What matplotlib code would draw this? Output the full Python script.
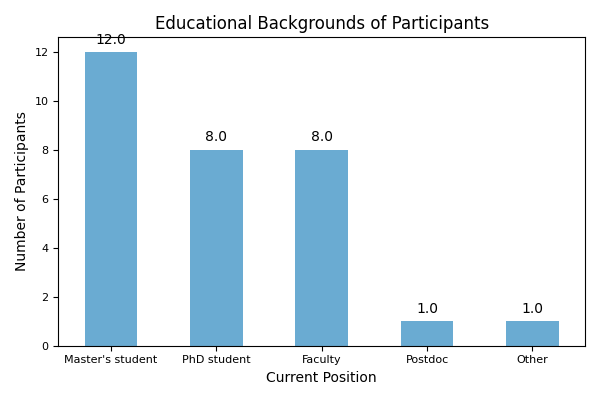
import matplotlib
matplotlib.use("Agg")
import matplotlib.pyplot as plt
import pandas as pd

positions = ["Master's student", "PhD student", "Faculty", "Postdoc", "Other"]
counts = [12, 8, 8, 1, 1]

series = pd.Series(counts, index=positions, dtype=float)

fig, ax = plt.subplots(figsize=(6, 4), dpi=100)
series.plot(kind="bar", ax=ax, color="#6aabd2", width=0.5)

for p in ax.patches:
    ax.annotate(f"{p.get_height():.1f}",
                (p.get_x() + p.get_width() / 2, p.get_height()),
                ha="center", va="center", xytext=(0, 9),
                textcoords="offset points", fontsize=10)

ax.set_title("Educational Backgrounds of Participants", fontsize=12)
ax.set_xlabel("Current Position", fontsize=10)
ax.set_ylabel("Number of Participants", fontsize=10)
ax.tick_params(axis="x", labelrotation=0, labelsize=8)
ax.tick_params(axis="y", labelsize=8)

plt.tight_layout()
plt.savefig("out.png", dpi=100)
